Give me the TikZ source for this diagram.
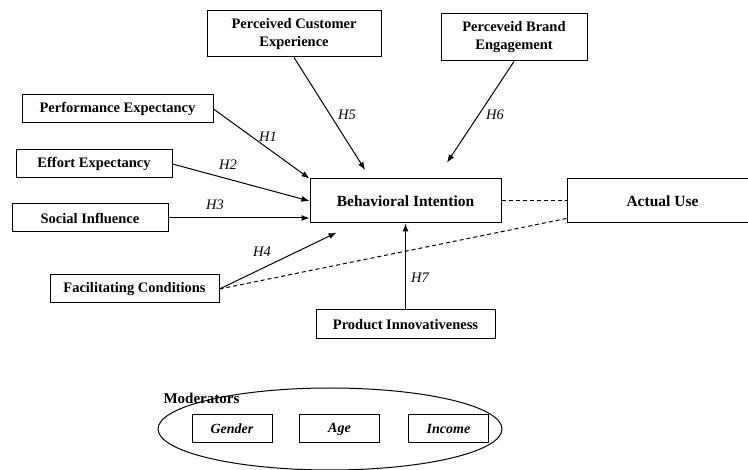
\documentclass[tikz,border=0pt]{standalone}
\usepackage{fontspec}
\setmainfont{Liberation Serif}
\usetikzlibrary{arrows.meta}

\begin{document}
\begin{tikzpicture}[x=1pt, y=-1pt,
    box/.style={draw, line width=1pt, inner sep=0pt, align=center,
        font=\bfseries\fontsize{14.5}{18}\selectfont},
    modbox/.style={box, minimum width=80, minimum height=28,
        font=\bfseries\itshape\fontsize{14}{16}\selectfont},
    hyp/.style={font=\itshape\fontsize{14.5}{16}\selectfont},
    link/.style={line width=1pt, -{Latex[length=8pt, width=6pt]}},
    assoc/.style={line width=1pt, dash pattern=on 4pt off 3pt}]
    \useasboundingbox (0,0) rectangle (748,470);

    % constructs on the left
    \foreach \nodename/\x/\y/\w/\txt in {pe/117.5/109/191/Performance Expectancy,
            ee/94/164/156/Effort Expectancy, si/90/218/156/Social Influence,
            fc/134.5/289/169/Facilitating Conditions}
        \node[box, minimum width=\w, minimum height=28] (\nodename) at (\x,\y) {\txt};

    \node[box, minimum width=174, minimum height=46] (pce) at (294,34) {Perceived Customer\\Experience};
    \node[box, minimum width=146, minimum height=47] (pbe) at (514,37.5) {Perceveid Brand\\Engagement};
    \node[box, minimum width=191, minimum height=44, font=\bfseries\fontsize{15.5}{18}\selectfont] (bi) at (405.5,201) {Behavioral Intention};
    \node[box, minimum width=191, minimum height=44, font=\bfseries\fontsize{15.5}{18}\selectfont] (au) at (662.5,201) {Actual Use};
    \node[box, minimum width=179, minimum height=29] (pi) at (405.5,324.5) {Product Innovativeness};

    \draw[link] (pe.east) -- (bi.north west);
    \draw[link] (ee.east) -- (bi.west);
    \draw[link] (si.east) -- (si.east -| bi.west);
    \draw[link, shorten >=21] (fc.east) -- ([xshift=46]bi.south west);
    \draw[link, shorten >=10] (pce.south) -- ([xshift=61]bi.north west);
    \draw[link, shorten >=19] (pbe.south) -- ([xshift=31]bi.north);
    \draw[link] (pi) -- (bi);
    \draw[assoc] (bi) -- (au);
    \draw[assoc] (fc.east) -- ([yshift=5]au.south west);

    \foreach \nodename/\x/\y/\txt in {h1/268/137/H1, h2/228/165/H2, h3/215/205/H3,
            h4/262/252/H4, h5/347/115/H5, h6/495/115/H6, h7/420/278/H7}
        \node[hyp] (\nodename) at (\x,\y) {\txt};

    % moderators
    \draw[line width=1pt] (330,429) ellipse [x radius=172, y radius=41];
    \node[anchor=west, font=\bfseries\fontsize{15}{16}\selectfont] (mod) at (160,398) {Moderators};
    \foreach \nodename/\x/\txt in {gen/232/Gender, age/339.5/Age, inc/448.5/Income}
        \node[modbox] (\nodename) at (\x,429) {\txt};
\end{tikzpicture}
\end{document}
